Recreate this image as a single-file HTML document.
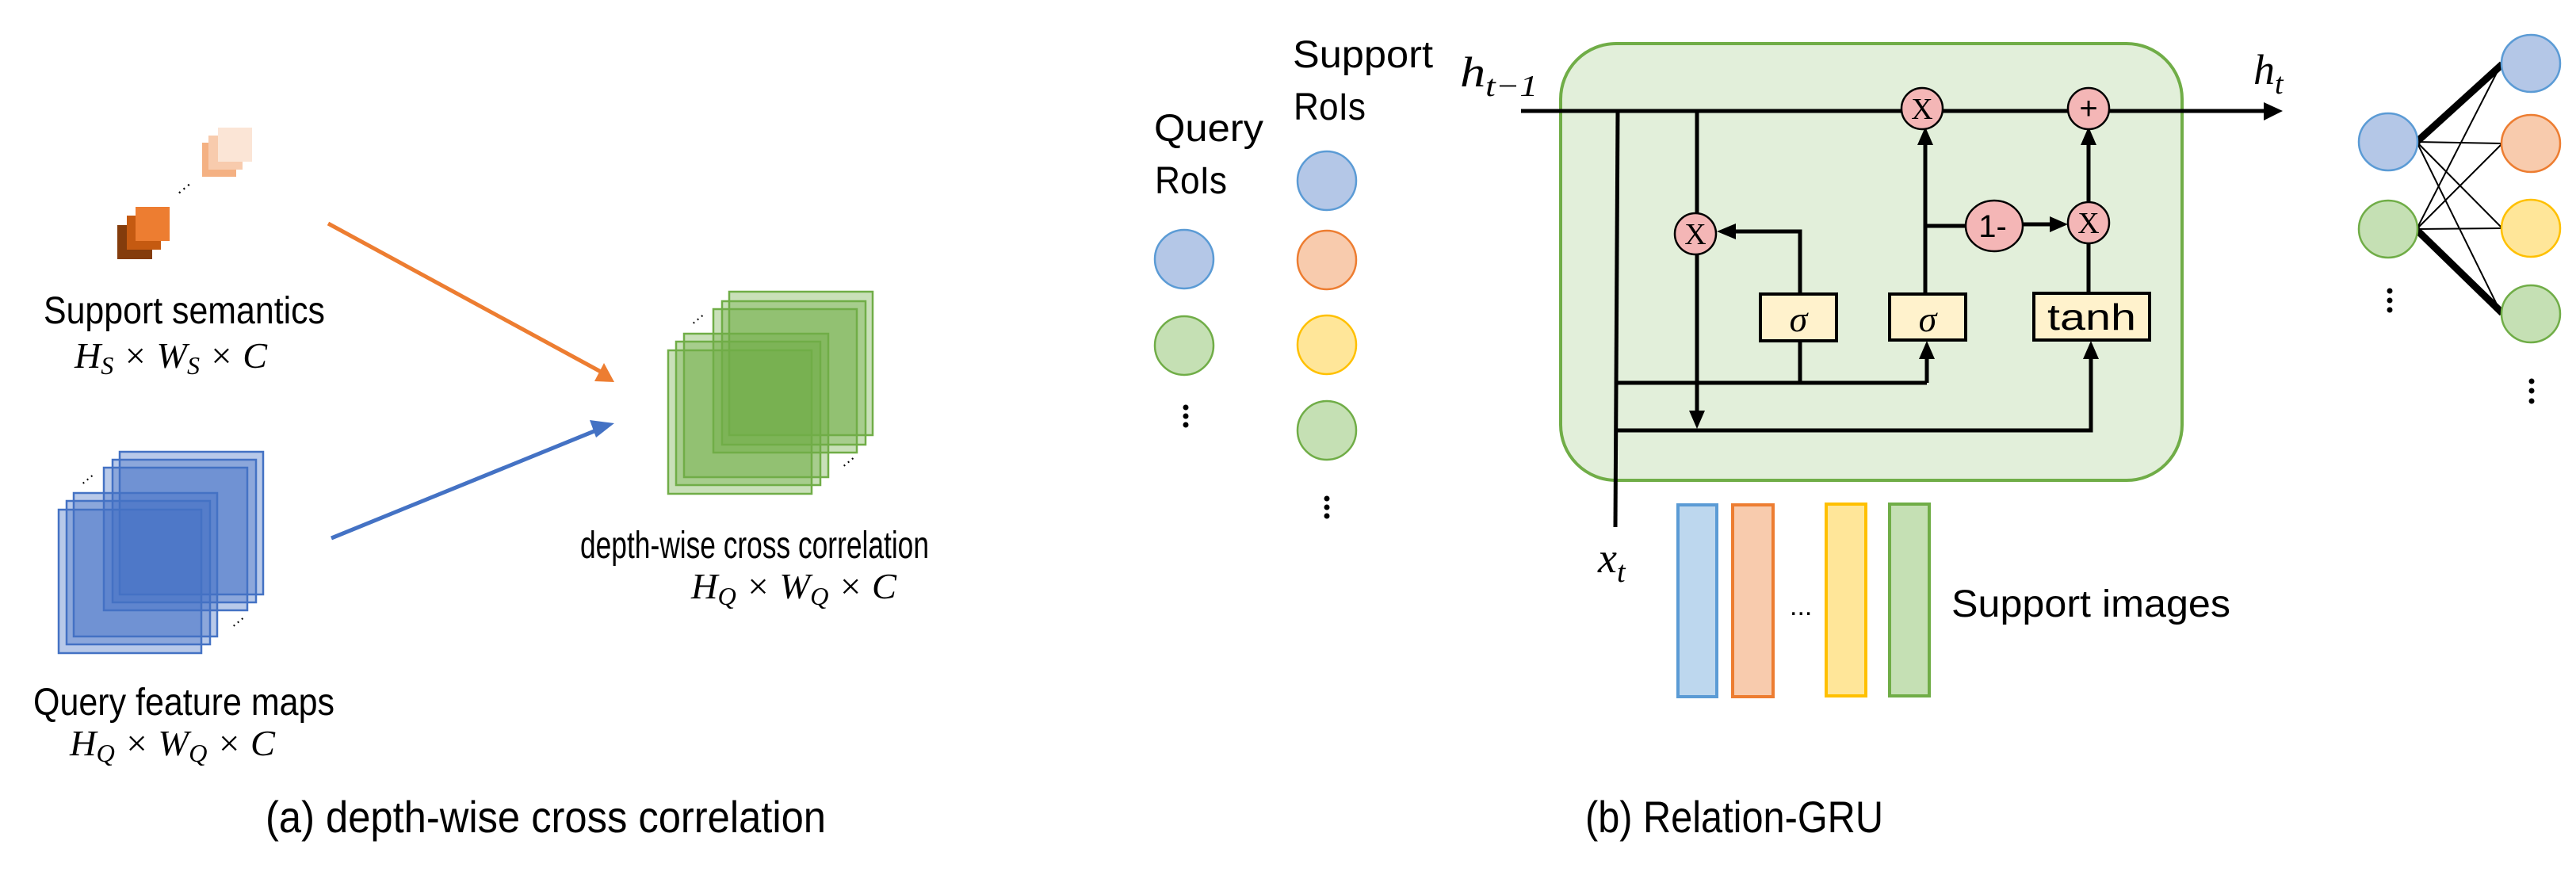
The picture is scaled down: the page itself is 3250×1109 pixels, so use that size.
<!DOCTYPE html>
<html><head><meta charset="utf-8"><style>
html,body{margin:0;padding:0;background:#fff;}
svg{display:block;}
.t{font-family:"Liberation Sans",sans-serif;fill:#000;}
.m{font-family:"Liberation Serif",serif;font-style:italic;fill:#000;}
</style></head><body>
<svg width="3250" height="1109" viewBox="0 0 3250 1109" xmlns="http://www.w3.org/2000/svg">
<!-- (a) support semantics squares -->
<rect x="255" y="180" width="43" height="43" fill="#f4b183"/>
<rect x="263" y="171" width="43" height="43" fill="#f8cbad"/>
<rect x="275" y="161" width="43" height="43" fill="#fbe5d6"/>
<rect x="148" y="284" width="44" height="43" fill="#843c0c"/>
<rect x="160" y="272" width="43" height="43" fill="#c55a11"/>
<rect x="171" y="261" width="43" height="43" fill="#ed7d31"/>
<text class="t" x="222" y="246" font-size="22" transform="rotate(-40 230 240)">···</text>
<text class="t" x="55" y="408" font-size="48" textLength="355" lengthAdjust="spacingAndGlyphs">Support semantics</text>
<text class="m" x="94" y="464" font-size="46" textLength="243" lengthAdjust="spacingAndGlyphs">H<tspan font-size="32" dy="8">S</tspan><tspan dy="-8"> × W</tspan><tspan font-size="32" dy="8">S</tspan><tspan dy="-8"> × C</tspan></text>
<!-- arrows -->
<line x1="414" y1="282" x2="758" y2="469" stroke="#ed7d31" stroke-width="5"/>
<polygon points="775,482 750,481 762,458" fill="#ed7d31"/>
<line x1="418" y1="679" x2="757" y2="541" stroke="#4472c4" stroke-width="5"/>
<polygon points="775,534 752,552 744,530" fill="#4472c4"/>
<!-- blue stack -->
<g fill="rgba(68,114,196,0.38)" stroke="#4472c4" stroke-width="2.5">
<rect x="151" y="570" width="181" height="180"/>
<rect x="142" y="580" width="181" height="180"/>
<rect x="131" y="590" width="181" height="180"/>
<rect x="93" y="622" width="181" height="181"/>
<rect x="84" y="632" width="181" height="181"/>
<rect x="74" y="643" width="180" height="181"/>
</g>
<text class="t" x="100" y="612" font-size="20" transform="rotate(-40 108 605)">···</text>
<text class="t" x="290" y="792" font-size="20" transform="rotate(-40 298 785)">···</text>
<text class="t" x="42" y="902" font-size="48" textLength="380" lengthAdjust="spacingAndGlyphs">Query feature maps</text>
<text class="m" x="88" y="953" font-size="46" textLength="259" lengthAdjust="spacingAndGlyphs">H<tspan font-size="32" dy="8">Q</tspan><tspan dy="-8"> × W</tspan><tspan font-size="32" dy="8">Q</tspan><tspan dy="-8"> × C</tspan></text>
<!-- green stack -->
<g fill="rgba(112,173,71,0.38)" stroke="#70ad47" stroke-width="2.5">
<rect x="920" y="368" width="181" height="181"/>
<rect x="911" y="380" width="181" height="181"/>
<rect x="900" y="390" width="181" height="181"/>
<rect x="863" y="421" width="182" height="181"/>
<rect x="853" y="431" width="182" height="181"/>
<rect x="843" y="442" width="181" height="181"/>
</g>
<text class="t" x="870" y="410" font-size="20" transform="rotate(-40 878 403)">···</text>
<text class="t" x="1060" y="590" font-size="20" transform="rotate(-40 1068 583)">···</text>
<text class="t" x="732" y="704" font-size="48" textLength="440" lengthAdjust="spacingAndGlyphs">depth-wise cross correlation</text>
<text class="m" x="872" y="755" font-size="46" textLength="259" lengthAdjust="spacingAndGlyphs">H<tspan font-size="32" dy="8">Q</tspan><tspan dy="-8"> × W</tspan><tspan font-size="32" dy="8">Q</tspan><tspan dy="-8"> × C</tspan></text>
<text class="t" x="335" y="1050" font-size="56" textLength="707" lengthAdjust="spacingAndGlyphs">(a) depth-wise cross correlation</text>

<!-- (b) RoIs -->
<text class="t" x="1456" y="178" font-size="48" textLength="138" lengthAdjust="spacingAndGlyphs">Query</text>
<text class="t" x="1457" y="244" font-size="48" textLength="91" lengthAdjust="spacingAndGlyphs">RoIs</text>
<text class="t" x="1631" y="85" font-size="48" textLength="177" lengthAdjust="spacingAndGlyphs">Support</text>
<text class="t" x="1632" y="151" font-size="48" textLength="91" lengthAdjust="spacingAndGlyphs">RoIs</text>
<g stroke-width="2.5">
<ellipse cx="1494" cy="327" rx="37" ry="37" fill="#b4c7e7" stroke="#5b9bd5"/>
<ellipse cx="1494" cy="436" rx="37" ry="37" fill="#c5e0b4" stroke="#70ad47"/>
<ellipse cx="1674" cy="228" rx="37" ry="37" fill="#b4c7e7" stroke="#5b9bd5"/>
<ellipse cx="1674" cy="328" rx="37" ry="37" fill="#f8cbad" stroke="#ed7d31"/>
<ellipse cx="1674" cy="435" rx="37" ry="37" fill="#ffe699" stroke="#ffc000"/>
<ellipse cx="1674" cy="543" rx="37" ry="37" fill="#c5e0b4" stroke="#70ad47"/>
</g>
<g fill="#000"><circle cx="1496" cy="514" r="3.5"/><circle cx="1496" cy="525" r="3.5"/><circle cx="1496" cy="536" r="3.5"/>
<circle cx="1674" cy="629" r="3.5"/><circle cx="1674" cy="640" r="3.5"/><circle cx="1674" cy="651" r="3.5"/></g>

<!-- GRU box -->
<rect x="1969" y="55" width="784" height="551" rx="70" fill="#e2efda" stroke="#70ad47" stroke-width="4"/>
<g stroke="#000" stroke-width="5" fill="none">
<line x1="1919" y1="140" x2="2858" y2="140"/>
<line x1="2041" y1="140" x2="2038" y2="665"/>
<line x1="2141" y1="140" x2="2141" y2="528"/>
<line x1="2041" y1="483" x2="2431" y2="483"/>
<polyline points="2271,371 2271,292 2190,292"/>
<line x1="2271" y1="430" x2="2271" y2="483"/>
<line x1="2431" y1="483" x2="2431" y2="445"/>
<line x1="2429" y1="371" x2="2429" y2="175"/>
<line x1="2429" y1="285" x2="2480" y2="285"/>
<line x1="2552" y1="283" x2="2590" y2="283"/>
<line x1="2635" y1="307" x2="2635" y2="370"/>
<line x1="2635" y1="255" x2="2635" y2="176"/>
<polyline points="2041,543 2638,543 2638,448"/>
</g>
<g fill="#000">
<polygon points="2141,541 2131,518 2151,518"/>
<polygon points="2166,292 2190,282 2190,302"/>
<polygon points="2431,430 2421,453 2441,453"/>
<polygon points="2429,160 2419,183 2439,183"/>
<polygon points="2609,283 2586,273 2586,293"/>
<polygon points="2635,160 2625,183 2645,183"/>
<polygon points="2638,430 2628,453 2648,453"/>
<polygon points="2880,140 2856,129 2856,152"/>
</g>
<g stroke="#000" stroke-width="2.5" fill="#f4b6b6">
<ellipse cx="2139" cy="295" rx="26" ry="26"/>
<ellipse cx="2425" cy="137" rx="26" ry="26"/>
<ellipse cx="2635" cy="137" rx="26" ry="26"/>
<ellipse cx="2516" cy="285" rx="36" ry="32"/>
<ellipse cx="2635" cy="281" rx="26" ry="26"/>
</g>
<g class="t" text-anchor="middle">
<text x="2139" y="308" font-size="38" font-family="Liberation Serif">X</text>
<text x="2425" y="150" font-size="38" font-family="Liberation Serif">X</text>
<text x="2635" y="150" font-size="40">+</text>
<text x="2514" y="299" font-size="40" font-family="Liberation Sans">1-</text>
<text x="2635" y="294" font-size="38" font-family="Liberation Serif">X</text>
</g>
<g fill="#fff2cc" stroke="#000" stroke-width="4">
<rect x="2221" y="371" width="96" height="59"/>
<rect x="2384" y="371" width="96" height="58"/>
<rect x="2566" y="370" width="146" height="59"/>
</g>
<text class="m" x="2269" y="418" font-size="46" text-anchor="middle">σ</text>
<text class="m" x="2432" y="418" font-size="46" text-anchor="middle">σ</text>
<text class="t" x="2639" y="416" font-size="46" text-anchor="middle" textLength="112" lengthAdjust="spacingAndGlyphs">tanh</text>
<text class="m" x="1842" y="109" font-size="54" textLength="98" lengthAdjust="spacingAndGlyphs">h<tspan font-size="38" dy="12">t−1</tspan></text>
<text class="m" x="2843" y="106" font-size="54">h<tspan font-size="38" dy="12">t</tspan></text>
<text class="m" x="2016" y="722" font-size="54">x<tspan font-size="38" dy="12">t</tspan></text>
<!-- support bars -->
<g stroke-width="4">
<rect x="2117" y="637" width="49" height="242" fill="#bdd7ee" stroke="#5b9bd5"/>
<rect x="2186" y="637" width="51" height="242" fill="#f8cbad" stroke="#ed7d31"/>
<rect x="2304" y="636" width="50" height="242" fill="#ffe699" stroke="#ffc000"/>
<rect x="2384" y="636" width="50" height="242" fill="#c5e0b4" stroke="#70ad47"/>
</g>
<text class="t" x="2258" y="776" font-size="34">...</text>
<text class="t" x="2462" y="778" font-size="48" textLength="352" lengthAdjust="spacingAndGlyphs">Support images</text>
<text class="t" x="2000" y="1050" font-size="56" textLength="376" lengthAdjust="spacingAndGlyphs">(b) Relation-GRU</text>

<!-- relation graph -->
<g stroke="#000" stroke-width="2">
<line x1="3049" y1="179" x2="3157" y2="181"/>
<line x1="3049" y1="179" x2="3157" y2="288"/>
<line x1="3049" y1="179" x2="3155" y2="394"/>
<line x1="3049" y1="289" x2="3153" y2="86"/>
<line x1="3049" y1="289" x2="3157" y2="181"/>
<line x1="3049" y1="289" x2="3157" y2="288"/>
</g>
<g stroke="#000" stroke-width="9">
<line x1="3049" y1="179" x2="3157" y2="81"/>
<line x1="3049" y1="290" x2="3157" y2="395"/>
</g>
<g stroke-width="2.5">
<ellipse cx="3013" cy="179" rx="37" ry="36" fill="#b4c7e7" stroke="#5b9bd5"/>
<ellipse cx="3013" cy="289" rx="37" ry="36" fill="#c5e0b4" stroke="#70ad47"/>
<ellipse cx="3193" cy="80" rx="37" ry="36" fill="#b4c7e7" stroke="#5b9bd5"/>
<ellipse cx="3193" cy="181" rx="37" ry="36" fill="#f8cbad" stroke="#ed7d31"/>
<ellipse cx="3193" cy="288" rx="37" ry="36" fill="#ffe699" stroke="#ffc000"/>
<ellipse cx="3193" cy="396" rx="37" ry="36" fill="#c5e0b4" stroke="#70ad47"/>
</g>
<g fill="#000"><circle cx="3015" cy="367" r="3.5"/><circle cx="3015" cy="379" r="3.5"/><circle cx="3015" cy="391" r="3.5"/>
<circle cx="3194" cy="481" r="3.5"/><circle cx="3194" cy="493" r="3.5"/><circle cx="3194" cy="506" r="3.5"/></g>
</svg>
</body></html>
